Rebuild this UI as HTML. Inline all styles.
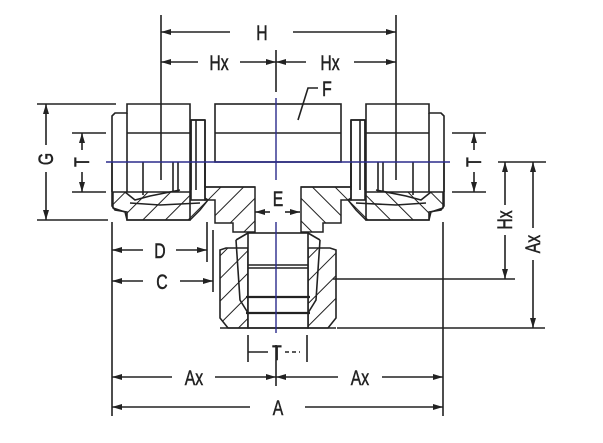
<!DOCTYPE html>
<html><head><meta charset="utf-8"><style>
html,body{margin:0;padding:0;background:#fff;}
svg{display:block;}
text{font-family:"Liberation Sans",sans-serif;font-size:21px;fill:#222;stroke:#222;stroke-width:0.5;}
</style></head><body>
<svg width="603" height="443" viewBox="0 0 603 443" xmlns="http://www.w3.org/2000/svg">
<defs>
<pattern id="h" width="16" height="16" patternUnits="userSpaceOnUse" patternTransform="rotate(45)">
<line x1="0" y1="0" x2="0" y2="16" stroke="#222" stroke-width="2"/>
</pattern>
<marker id="a" viewBox="0 0 10 6" refX="10" refY="3" markerWidth="11" markerHeight="6" orient="auto-start-reverse" markerUnits="userSpaceOnUse">
<path d="M0,0 L10,3 L0,6 z" fill="#222"/>
</marker>
<g id="side">
<path d="M112,116 L115,113 L127,113 L127,104 L190,104 L190,220 L127,220 L127,212 L115,210 L112,206 Z" fill="#fff" stroke="#222" stroke-width="1.6"/>
<line x1="112" y1="162" x2="112" y2="192"/>
<line x1="127" y1="133" x2="190" y2="133"/>
<line x1="127" y1="113" x2="127" y2="192"/>
<line x1="143" y1="162" x2="143" y2="195"/>
<line x1="173" y1="162" x2="173" y2="192"/>
<line x1="178" y1="162" x2="178" y2="192"/>
<path d="M113,192 L195,192 L208,200 L200,210 L190,220 L127,220 L125,212 L113,208 Z" fill="url(#h)" stroke="#222" stroke-width="1.5"/>
<path d="M125,192 L135,200 L150,196 L180,190 M130,203 L160,205 L200,203" fill="none"/>
<rect x="191" y="120" width="14" height="80" fill="#fff"/>
<line x1="191" y1="120" x2="191" y2="190"/>
<line x1="205" y1="120" x2="205" y2="190"/>
<line x1="191" y1="120" x2="205" y2="120"/>
<line x1="196" y1="120" x2="196" y2="190"/>
<path d="M205,187 L205,200 L215,200 L215,223 L233,223 L233,232 L255,232 L255,187 Z" fill="url(#h)" stroke="#222" stroke-width="1.5"/>
<line x1="205" y1="162" x2="205" y2="187"/>
<line x1="205" y1="187" x2="255" y2="187"/>
</g>
</defs>
<g stroke="#222" stroke-width="1.6" fill="none">
<rect x="215" y="104" width="126" height="58" fill="#fff"/>
<line x1="215" y1="133" x2="341" y2="133"/>
<use href="#side"/>
<use href="#side" transform="translate(556,0) scale(-1,1)"/>
<path d="M220,250 L226,248 L248,248 L248,328 L228,328 L220,318 Z" fill="url(#h)"/>
<path d="M336,250 L330,248 L308,248 L308,328 L328,328 L336,318 Z" fill="url(#h)"/>
<rect x="248" y="233" width="60" height="95" fill="#fff"/>
<line x1="248" y1="265" x2="308" y2="265"/>
<line x1="248" y1="268" x2="308" y2="268"/>
<line x1="246" y1="297" x2="310" y2="297" stroke-width="2.2"/>
<line x1="246" y1="313" x2="310" y2="313" stroke-width="2.2"/>
<path d="M236,240 L248,233 M236,240 L240,300 L248,313 M320,240 L308,233 M320,240 L316,300 L308,313"/>
<line x1="220" y1="328" x2="336" y2="328"/>
<line x1="161" y1="15" x2="161" y2="180"/>
<line x1="396" y1="15" x2="396" y2="180"/>
<line x1="112" y1="222" x2="112" y2="416"/>
<line x1="443" y1="222" x2="443" y2="416"/>
<line x1="37" y1="104" x2="116" y2="104"/>
<line x1="37" y1="220" x2="108" y2="220"/>
<line x1="72" y1="133" x2="106" y2="133"/>
<line x1="72" y1="192" x2="106" y2="192"/>
<line x1="452" y1="133" x2="486" y2="133"/>
<line x1="452" y1="192" x2="486" y2="192"/>
<line x1="498" y1="162" x2="546" y2="162"/>
<line x1="333" y1="279" x2="515" y2="279"/>
<line x1="337" y1="328" x2="545" y2="328"/>
<line x1="207" y1="222" x2="207" y2="262"/>
<line x1="213" y1="230" x2="213" y2="292"/>
<line x1="248" y1="335" x2="248" y2="362"/>
<line x1="307" y1="335" x2="307" y2="362"/>
<line x1="276" y1="50" x2="276" y2="92"/>
<line x1="276" y1="345" x2="276" y2="386"/>
<line x1="161" y1="32" x2="230" y2="32" marker-start="url(#a)"/>
<line x1="293" y1="32" x2="396" y2="32" marker-end="url(#a)"/>
<line x1="161" y1="62" x2="198" y2="62" marker-start="url(#a)"/>
<line x1="240" y1="62" x2="276" y2="62" marker-end="url(#a)"/>
<line x1="276" y1="62" x2="306" y2="62" marker-start="url(#a)"/>
<line x1="354" y1="62" x2="396" y2="62" marker-end="url(#a)"/>
<line x1="46" y1="104" x2="46" y2="145" marker-start="url(#a)"/>
<line x1="46" y1="172" x2="46" y2="220" marker-end="url(#a)"/>
<line x1="82" y1="133" x2="82" y2="150" marker-start="url(#a)"/>
<line x1="82" y1="172" x2="82" y2="192" marker-end="url(#a)"/>
<line x1="474" y1="133" x2="474" y2="150" marker-start="url(#a)"/>
<line x1="474" y1="172" x2="474" y2="192" marker-end="url(#a)"/>
<line x1="505" y1="162" x2="505" y2="205" marker-start="url(#a)"/>
<line x1="505" y1="235" x2="505" y2="279" marker-end="url(#a)"/>
<line x1="533" y1="162" x2="533" y2="228" marker-start="url(#a)"/>
<line x1="533" y1="260" x2="533" y2="328" marker-end="url(#a)"/>
<line x1="112" y1="250" x2="143" y2="250" marker-start="url(#a)"/>
<line x1="176" y1="250" x2="207" y2="250" marker-end="url(#a)"/>
<line x1="112" y1="281" x2="143" y2="281" marker-start="url(#a)"/>
<line x1="180" y1="281" x2="213" y2="281" marker-end="url(#a)"/>
<line x1="255" y1="212" x2="270" y2="212" marker-start="url(#a)"/>
<line x1="285" y1="212" x2="300" y2="212" marker-end="url(#a)"/>
<line x1="248" y1="352" x2="268" y2="352"/>
<line x1="285" y1="352" x2="300" y2="352" stroke-dasharray="4 3"/>
<line x1="112" y1="377" x2="172" y2="377" marker-start="url(#a)"/>
<line x1="215" y1="377" x2="276" y2="377" marker-end="url(#a)"/>
<line x1="276" y1="377" x2="338" y2="377" marker-start="url(#a)"/>
<line x1="382" y1="377" x2="443" y2="377" marker-end="url(#a)"/>
<line x1="112" y1="407" x2="250" y2="407" marker-start="url(#a)"/>
<line x1="305" y1="407" x2="443" y2="407" marker-end="url(#a)"/>
<path d="M298,120 L308,88 L318,88"/>
</g>
<g stroke="#2b2b8c" stroke-width="1.4">
<line x1="106" y1="162" x2="450" y2="162"/>
<line x1="276" y1="98" x2="276" y2="180"/>
<line x1="276" y1="222" x2="276" y2="333"/>
</g>
<g text-anchor="middle">
<text x="262" y="40" transform="translate(262,0) scale(0.75,1) translate(-262,0)">H</text>
<text x="219" y="70" transform="translate(219,0) scale(0.75,1) translate(-219,0)">Hx</text>
<text x="330" y="70" transform="translate(330,0) scale(0.75,1) translate(-330,0)">Hx</text>
<text x="327" y="96" transform="translate(327,0) scale(0.75,1) translate(-327,0)">F</text>
<text x="278" y="206" transform="translate(278,0) scale(0.75,1) translate(-278,0)">E</text>
<text x="160" y="258" transform="translate(160,0) scale(0.75,1) translate(-160,0)">D</text>
<text x="162" y="289" transform="translate(162,0) scale(0.75,1) translate(-162,0)">C</text>
<text x="277" y="360" transform="translate(277,0) scale(0.75,1) translate(-277,0)">T</text>
<text x="194" y="385" transform="translate(194,0) scale(0.75,1) translate(-194,0)">Ax</text>
<text x="360" y="385" transform="translate(360,0) scale(0.75,1) translate(-360,0)">Ax</text>
<text x="278" y="415" transform="translate(278,0) scale(0.75,1) translate(-278,0)">A</text>
<text transform="translate(53,159) rotate(-90) scale(0.75,1)" x="0" y="0">G</text>
<text transform="translate(89,162) rotate(-90) scale(0.75,1)" x="0" y="0">T</text>
<text transform="translate(481,162) rotate(-90) scale(0.75,1)" x="0" y="0">T</text>
<text transform="translate(512,220) rotate(-90) scale(0.75,1)" x="0" y="0">Hx</text>
<text transform="translate(540,244) rotate(-90) scale(0.75,1)" x="0" y="0">Ax</text>
</g>
</svg>
</body></html>
